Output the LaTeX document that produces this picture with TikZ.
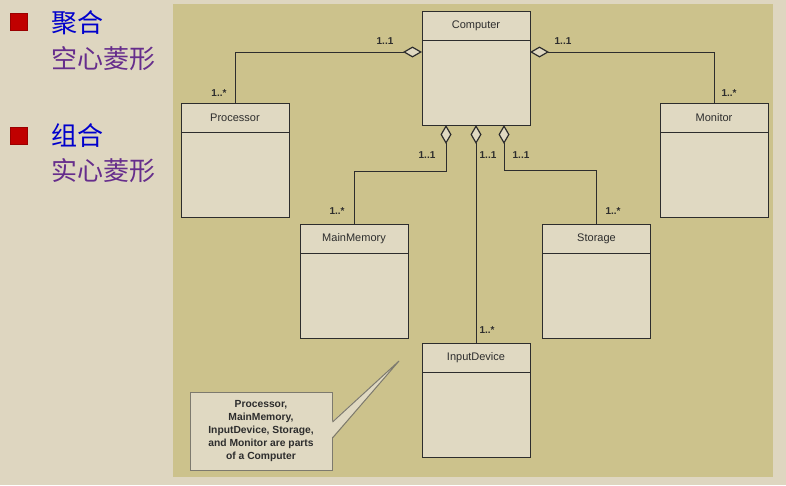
\documentclass[tikz,border=0pt]{standalone}
\usepackage{fontspec}
\setmainfont{Liberation Sans}
\newfontfamily\cjk{Noto Sans CJK SC}
\usepackage{tikz}
\usetikzlibrary{positioning,arrows.meta}
\usepackage{xcolor}
\definecolor{slidebg}{RGB}{222,214,192}
\definecolor{panel}{RGB}{204,194,140}
\definecolor{boxfill}{RGB}{224,217,194}
\definecolor{bulletred}{RGB}{192,0,0}
\definecolor{headblue}{RGB}{0,0,204}
\definecolor{subpurple}{RGB}{102,45,140}
\definecolor{ink}{RGB}{45,45,45}
\definecolor{notegray}{RGB}{125,122,110}

\begin{document}
\begin{tikzpicture}[x=1pt, y=-1pt,
    classhead/.style={draw=ink, fill=boxfill, line width=1pt, minimum width=108pt, minimum height=29pt,
        inner sep=0pt, outer sep=0pt, text=ink, font=\fontsize{11}{13}\selectfont},
    classbody/.style={draw=ink, fill=boxfill, line width=1pt, minimum width=108pt, minimum height=85pt,
        inner sep=0pt, outer sep=0pt},
    mult/.style={inner sep=0pt, text=ink, font=\bfseries\fontsize{10}{12}\selectfont},
    agg/.style={draw=ink, line width=1pt, arrows={Diamond[fill=boxfill, length=19pt, width=11pt, line width=1.2pt]-}},
    bullet/.style={fill=bulletred, draw=bulletred!80!black, minimum size=17pt, inner sep=0pt},
    cntitle/.style={anchor=west, inner sep=0pt, text=headblue, font=\cjk\fontsize{26}{30}\selectfont},
    cnsub/.style={anchor=west, inner sep=0pt, text=subpurple, font=\cjk\fontsize{26}{30}\selectfont}
]
    % Slide and diagram panel
    \fill[slidebg] (0,0) rectangle (786,485);
    \fill[panel] (173,4) rectangle (773,477);

    % Bullets on the left
    \node[bullet] (b1) at (19,22) {};
    \node[cntitle] (t1) at (51,23) {聚合};
    \node[cnsub] (s1) at (51,59) {空心菱形};
    \node[bullet] (b2) at (19,136) {};
    \node[cntitle] (t2) at (51,136) {组合};
    \node[cnsub] (s2) at (51,171) {实心菱形};

    % Classes
    \node[classhead] (comp) at (476,25.5) {Computer};
    \node[classbody, below=0pt of comp] (compb) {};
    \node[classhead] (proc) at (235,118) {Processor};
    \node[classbody, below=0pt of proc] (procb) {};
    \node[classhead] (mon) at (714,118) {Monitor};
    \node[classbody, below=0pt of mon] (monb) {};
    \node[classhead] (mem) at (354,238.5) {MainMemory};
    \node[classbody, below=0pt of mem] (memb) {};
    \node[classhead] (stor) at (596.5,238.5) {Storage};
    \node[classbody, below=0pt of stor] (storb) {};
    \node[classhead] (inp) at (476,357.5) {InputDevice};
    \node[classbody, below=0pt of inp] (inpb) {};

    % Aggregations
    \draw[agg] ([yshift=-12pt]compb.north west) -| (proc.north);
    \draw[agg] ([yshift=-12pt]compb.north east) -| (mon.north);
    \draw[agg] ([xshift=-30pt]compb.south) -- ++(0,46) -| (mem.north);
    \draw[agg] (compb.south) -- (inp.north);
    \draw[agg] ([xshift=28pt]compb.south) -- ++(0,45) -| (stor.north);

    % Multiplicities
    \node[mult] (m1) at (385,41) {1..1};
    \node[mult] (m2) at (219,93) {1..*};
    \node[mult] (m3) at (563,41) {1..1};
    \node[mult] (m4) at (729,93) {1..*};
    \node[mult] (m5) at (427,155) {1..1};
    \node[mult] (m6) at (488,155) {1..1};
    \node[mult] (m7) at (521,155) {1..1};
    \node[mult] (m8) at (337,211) {1..*};
    \node[mult] (m9) at (613,211) {1..*};
    \node[mult] (m10) at (487,330) {1..*};

    % Note with pointer
    \node[draw=notegray, fill=boxfill, line width=1pt, minimum width=142pt, minimum height=78pt,
        inner sep=2pt, align=center, text=ink, font=\bfseries\fontsize{10.3}{13}\selectfont]
        (note) at (261,431) {Processor,\\MainMemory,\\InputDevice, Storage,\\and Monitor are parts\\of a Computer};
    \coordinate (tip) at (399,361);
    \fill[boxfill] ([xshift=-1pt,yshift=9pt]note.east) -- (tip) -- ([xshift=-1pt,yshift=-7pt]note.east) -- cycle;
    \draw[notegray, line width=1pt] ([yshift=9pt]note.east) -- (tip) -- ([yshift=-7pt]note.east);
\end{tikzpicture}
\end{document}
